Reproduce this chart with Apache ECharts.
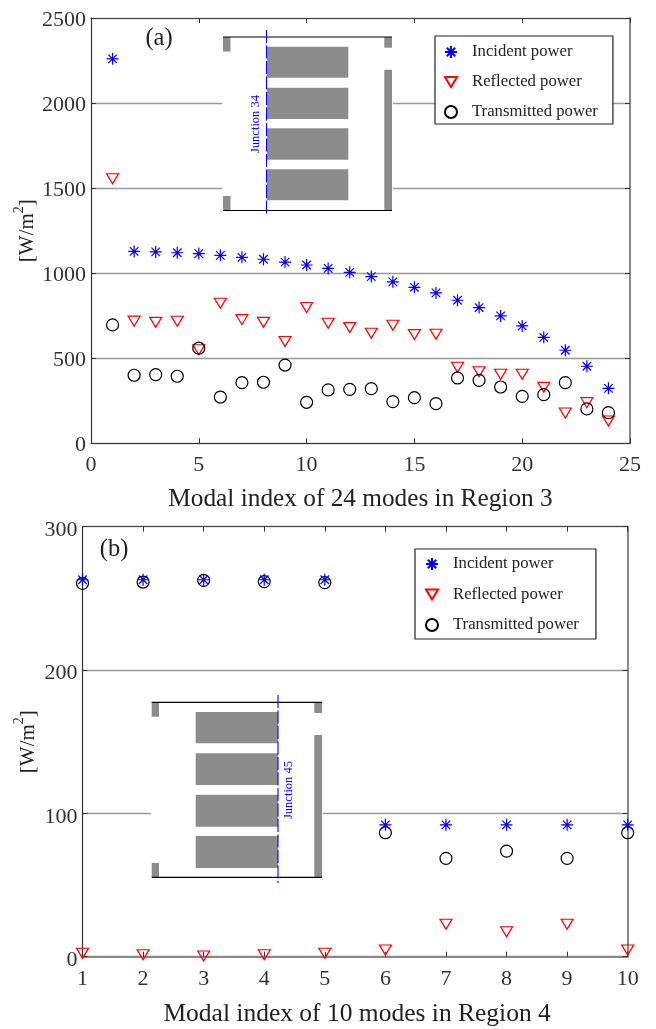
<!DOCTYPE html>
<html><head><meta charset="utf-8">
<style>html,body{margin:0;padding:0;background:#fff}#c{width:656px;height:1029px}</style>
<script src="https://cdn.jsdelivr.net/npm/echarts@6/dist/echarts.min.js"></script>
</head><body><div id="c"></div>
<script>
const modesA = [1,2,3,4,5,6,7,8,9,10,11,12,13,14,15,16,17,18,19,20,21,22,23,24];
const incidentA = [2260,1128,1125,1120,1115,1105,1093,1082,1065,1048,1028,1005,980,949,917,884,841,798,749,690,623,547,453,323];
const reflectedA = [1555,718,711,717,550,823,727,711,598,798,706,680,647,694,639,641,447,421,406,406,329,178,239,131];
const transmittedA = [696,400,404,394,559,272,357,359,460,241,314,317,321,245,268,233,384,370,331,276,286,357,202,180];
const modesB = [1,2,3,4,5,6,7,8,9,10];
const incidentB = [263,263,263,263,263,92,92,92,92,92];
const reflectedB = [2.4,1.4,0.5,1.4,2.4,4.7,22.6,17.4,22.6,4.7];
const transmittedB = [260.5,261.4,262.6,261.7,261,86.5,68.6,73.7,68.6,86.5];
const seriesNames = ['Incident power','Reflected power','Transmitted power'];
const xTitleA = 'Modal index of 24 modes in Region 3';
const xTitleB = 'Modal index of 10 modes in Region 4';

const FONT = '"Liberation Serif","Times New Roman",serif';
const STAR = 'path://M0 -10L0 10M-10 0L10 0M-7.07 -7.07L7.07 7.07M-7.07 7.07L7.07 -7.07';
const TRI = 'path://M0 0L12 0L6 10Z';
const TRI_ICON = 'path://M0 -1M0 11M0 0L12 0L6 10Z';
const pairs = (xs, ys) => xs.map((x, i) => [x, ys[i]]);

function mk(name, xi, yi, xs, ys, kind) {
  const s = {
    star: {symbol: STAR, symbolSize: 12, color: '#0000ff', w: 1.2},
    tri: {symbol: TRI, symbolSize: [12, 10], color: '#ff0000', w: 1.2},
    circ: {symbol: 'circle', symbolSize: 12, color: '#000', w: 1.2}
  }[kind];
  return {
    name, type: 'scatter', xAxisIndex: xi, yAxisIndex: yi, data: pairs(xs, ys),
    symbol: s.symbol, symbolSize: s.symbolSize, clip: false, silent: true,
    itemStyle: {color: 'rgba(0,0,0,0)', borderColor: s.color, borderWidth: s.w, opacity: 1},
    z: kind === 'star' ? 5 : (kind === 'circ' ? 4 : 3)
  };
}
const tick = {show: true, inside: true, length: 5, lineStyle: {color: '#333', width: 1}};
const labelStyle = {fontFamily: FONT, fontSize: 22, color: '#333'};

function axes(grid, xmin, xmax, xint, ymax, yint, title, isB) {
  const line = c => ({show: true, onZero: false, lineStyle: {color: c, width: c === '#888' ? 2 : 1.2}});
  const x = [
    {type: 'value', gridIndex: grid, min: xmin, max: xmax, interval: xint, position: 'bottom',
     axisLine: line(isB ? '#888' : '#333'), axisTick: tick, splitLine: {show: false},
     axisLabel: Object.assign({margin: isB ? 12 : 11, hideOverlap: false, showMinLabel: true, showMaxLabel: true, formatter: v => String(v)}, labelStyle),
     name: title, nameLocation: 'middle', nameGap: isB ? 45 : 44,
     nameTextStyle: {fontFamily: FONT, fontSize: isB ? 25.5 : 25.3, color: '#222', padding: isB ? [0, 0, 0, 4] : 0}},
    {type: 'value', gridIndex: grid, min: xmin, max: xmax, interval: xint, position: 'top',
     axisLine: line('#444'), axisTick: tick, splitLine: {show: false}, axisLabel: {show: false}}
  ];
  const y = [
    {type: 'value', gridIndex: grid, min: 0, max: ymax, interval: yint, position: 'left',
     axisLine: line('#333'), axisTick: tick,
     splitLine: {show: true, lineStyle: {color: '#999', width: 1.3}},
     axisLabel: {margin: 5, showMinLabel: true, showMaxLabel: true, formatter: v => '{v|' + v + '}',
       rich: {v: Object.assign({padding: [isB ? 7 : 4, 0, 0, 0]}, labelStyle)}},
     name: '{t|[W/m}{s|2}{t|]}', nameLocation: 'middle', nameMoveOverlap: false,
     nameGap: isB ? 44 : 53, nameRotate: 90,
     nameTextStyle: {rich: {
       t: {fontFamily: FONT, fontSize: 21, color: '#222', lineHeight: 26, verticalAlign: 'bottom'},
       s: {fontFamily: FONT, fontSize: 14, color: '#222', lineHeight: 26, verticalAlign: 'top'}}}},
    {type: 'value', gridIndex: grid, min: 0, max: ymax, interval: yint, position: 'right',
     axisLine: line('#888'), axisTick: tick, splitLine: {show: false}, axisLabel: {show: false}}
  ];
  return {x, y};
}
const A = axes(0, 0, 25, 5, 2500, 500, xTitleA, false);
const B = axes(1, 1, 10, 1, 300, 100, xTitleB, true);

const rect = (x0, y0, x1, y1, fill) => ({type: 'rect', z: 2, silent: true,
  shape: {x: x0, y: y0, width: x1 - x0, height: y1 - y0}, style: {fill: fill || '#8c8c8c'}});
const hline = (x0, x1, y) => ({type: 'line', z: 2, silent: true,
  shape: {x1: x0, y1: y, x2: x1, y2: y}, style: {stroke: '#000', lineWidth: 1.2}});
const junction = (x, y0, y1) => ({type: 'line', z: 2, silent: true,
  shape: {x1: x, y1: y0, x2: x, y2: y1}, style: {stroke: '#0000ff', lineWidth: 1.1, lineDash: [13, 2.5]}});
const label = (t, x, y, size, color, rot) => ({type: 'text', z: 6, silent: true, x, y, rotation: rot || 0,
  style: {text: t, fontFamily: FONT, fontSize: size, fill: color, align: 'center', verticalAlign: 'middle'}});

const insetA = [
  rect(222, 26, 393, 218, '#fff'),
  rect(223, 37, 230.5, 51.5), rect(223, 196, 230.5, 210.5),
  rect(384.3, 37, 392, 47.7), rect(384.3, 69.7, 392, 210.5),
  rect(267, 46.7, 348.3, 77.7), rect(267, 87.7, 348.3, 119),
  rect(267, 128.3, 348.3, 159.7), rect(267, 169.3, 348.3, 200.3),
  hline(223, 392, 37), hline(223, 392, 210.5),
  junction(266.5, 30, 216),
  label('Junction 34', 256, 124, 12.5, '#0000ff', Math.PI / 2),
  label('(a)', 159, 39, 24.5, '#222')
];
const insetB = [
  rect(151, 692, 323, 885, '#fff'),
  rect(151.7, 702, 159, 716.7), rect(151.7, 863, 159, 877.3),
  rect(314.3, 702, 322, 713), rect(314.3, 735, 322, 877.3),
  rect(195.7, 712, 278, 743.3), rect(195.7, 753.3, 278, 785),
  rect(195.7, 794.7, 278, 826.7), rect(195.7, 836, 278, 868),
  hline(151.7, 322, 702.3), hline(151.7, 322, 877.3),
  junction(278, 695, 883),
  label('Junction 45', 288.5, 790, 12.5, '#0000ff', Math.PI / 2),
  label('(b)', 114, 550, 24.5, '#222')
];
const legend = (left, top, padL, padR, padT, padB, gap) => ({
  show: true, orient: 'vertical', left, top, selectedMode: false, z: 8,
  data: [{name: seriesNames[0]}, {name: seriesNames[1], icon: TRI_ICON}, {name: seriesNames[2]}],
  itemWidth: 26, itemHeight: 12, itemGap: gap, padding: [padT, padR, padB, padL],
  backgroundColor: '#fff', borderColor: '#222', borderWidth: 1.2, borderRadius: 0,
  textStyle: {fontFamily: FONT, fontSize: 16.7, color: '#222', padding: [0, 0, 0, 3]}
});

const chart = echarts.init(document.getElementById('c'), null, {renderer: 'canvas'});
chart.setOption({
  animation: false, backgroundColor: '#fff',
  grid: [
    {left: 91, top: 18, width: 539, height: 425.3, outerBoundsMode: 'none'},
    {left: 82.5, top: 526.7, width: 545.2, height: 430, outerBoundsMode: 'none'}
  ],
  xAxis: [...A.x, ...B.x],
  yAxis: [...A.y, ...B.y],
  legend: [legend(435, 36, 9, 15, 7.5, 3.5, 13), legend(415, 549, 10, 17, 6.5, 5.5, 13.5)],
  graphic: {elements: [...insetA, ...insetB]},
  series: [
    mk(seriesNames[0], 0, 0, modesA, incidentA, 'star'),
    mk(seriesNames[1], 0, 0, modesA, reflectedA, 'tri'),
    mk(seriesNames[2], 0, 0, modesA, transmittedA, 'circ'),
    mk(seriesNames[0], 2, 2, modesB, incidentB, 'star'),
    mk(seriesNames[1], 2, 2, modesB, reflectedB, 'tri'),
    mk(seriesNames[2], 2, 2, modesB, transmittedB, 'circ')
  ]
});
</script></body></html>
